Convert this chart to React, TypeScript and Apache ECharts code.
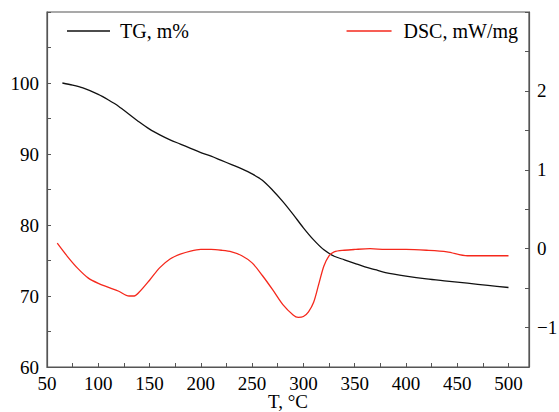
import React, { useEffect, useRef } from "react";
import * as echarts from "echarts";

const tgT = [65, 75, 85, 100, 110, 120, 130, 140, 150, 160, 170, 180, 190, 200, 210, 220, 230, 240, 250, 260, 270, 280, 290, 300, 310, 320, 330, 340, 350, 360, 370, 380, 400, 420, 440, 460, 480, 500];
const tgValues = [100, 99.7, 99.3, 98.4, 97.6, 96.7, 95.6, 94.5, 93.5, 92.7, 92.0, 91.4, 90.8, 90.2, 89.7, 89.1, 88.5, 87.9, 87.2, 86.3, 84.9, 83.3, 81.5, 79.6, 77.9, 76.5, 75.6, 75.1, 74.6, 74.1, 73.7, 73.3, 72.8, 72.4, 72.1, 71.8, 71.5, 71.2];

const dscT = [60, 70, 80, 90, 100, 110, 120, 130, 135, 140, 150, 160, 170, 180, 190, 200, 210, 220, 230, 240, 250, 260, 270, 280, 290, 295, 300, 305, 310, 315, 320, 325, 330, 340, 350, 365, 380, 400, 420, 440, 460, 480, 500];
const dscValues = [0.07, -0.1, -0.25, -0.37, -0.44, -0.49, -0.54, -0.6, -0.6, -0.55, -0.4, -0.24, -0.13, -0.07, -0.03, -0.01, -0.01, -0.02, -0.04, -0.09, -0.18, -0.34, -0.52, -0.71, -0.84, -0.87, -0.86, -0.8, -0.68, -0.45, -0.22, -0.09, -0.04, -0.02, -0.01, 0.0, -0.01, -0.01, -0.02, -0.04, -0.09, -0.09, -0.09];

const xLabels = [50, 100, 150, 200, 250, 300, 350, 400, 450, 500];
const leftLabels = [60, 70, 80, 90, 100];
const rightLabels = [-1, 0, 1, 2];

const FONT = "Liberation Serif";
const AXIS_COLOR = "#555";
const LABEL_SIZE = 19;
const LEGEND_SIZE = 20;

export default function App() {
  const ref = useRef<HTMLDivElement>(null);
  useEffect(() => {
    const chart = echarts.init(ref.current!, null, { renderer: "svg" });
    const axisCommon = {
      axisLine: { show: true, onZero: false, lineStyle: { color: AXIS_COLOR, width: 1.2 } },
      axisTick: { show: true, inside: true, length: 4, lineStyle: { color: AXIS_COLOR } },
      splitLine: { show: false },
    };
    chart.setOption({
      animation: false,
      grid: {
        left: 47, right: 30, top: 12, bottom: 45,
        outerBoundsMode: "none",
        containLabel: false,
        show: true, borderColor: AXIS_COLOR, borderWidth: 1.2,
      },
      legend: [
        {
          data: ["TG, m%"],
          left: 62,
          top: 16,
          icon: "rect",
          itemWidth: 43,
          itemHeight: 1.6,
          textStyle: { fontFamily: FONT, fontSize: LEGEND_SIZE, color: "#000", padding: [0, 0, 0, 5] },
        },
        {
          data: ["DSC, mW/mg"],
          right: 36,
          top: 16,
          icon: "rect",
          itemWidth: 45,
          itemHeight: 1.6,
          textStyle: { fontFamily: FONT, fontSize: LEGEND_SIZE, color: "#000", padding: [0, 0, 0, 7] },
        },
      ],
      xAxis: {
        type: "value",
        min: 50,
        max: 520,
        interval: 25,
        name: "T, °C",
        nameLocation: "middle",
        nameGap: 26,
        nameMoveOverlap: false,
        nameTextStyle: { fontFamily: FONT, fontSize: LABEL_SIZE, lineHeight: 17, color: "#000" },
        ...axisCommon,
        axisLabel: {
          fontFamily: FONT,
          fontSize: LABEL_SIZE,
          lineHeight: 17,
          color: "#000",
          margin: 8,
          formatter: (v: number) => (xLabels.includes(v) ? String(v) : ""),
        },
      },
      yAxis: [
        {
          type: "value",
          position: "left",
          min: 60,
          max: 110,
          interval: 5,
          ...axisCommon,
          axisLabel: {
            fontFamily: FONT,
            fontSize: LABEL_SIZE,
            color: "#000",
            margin: 8,
            formatter: (v: number) => (leftLabels.includes(v) ? String(v) : ""),
          },
        },
        {
          type: "value",
          position: "right",
          min: -1.5,
          max: 3,
          interval: 0.5,
          ...axisCommon,
          axisLabel: {
            fontFamily: FONT,
            fontSize: LABEL_SIZE,
            color: "#000",
            margin: 8,
            formatter: (v: number) => (rightLabels.includes(v) ? (v < 0 ? "\u2212" + Math.abs(v) : String(v)) : ""),
          },
        },
      ],
      series: [
        {
          name: "TG, m%",
          type: "line",
          yAxisIndex: 0,
          smooth: 0.3,
          symbol: "none",
          lineStyle: { color: "#111", width: 1.3 },
          itemStyle: { color: "#111" },
          data: tgT.map((t, i) => [t, tgValues[i]]),
        },
        {
          name: "DSC, mW/mg",
          type: "line",
          yAxisIndex: 1,
          smooth: 0.3,
          symbol: "none",
          lineStyle: { color: "#f5281c", width: 1.3 },
          itemStyle: { color: "#f5281c" },
          data: dscT.map((t, i) => [t, dscValues[i]]),
        },
      ],
    });
    return () => chart.dispose();
  }, []);
  return <div ref={ref} style={{ width: 559, height: 412, position: "absolute", left: 0, top: 0, background: "#fff" }} />;
}
